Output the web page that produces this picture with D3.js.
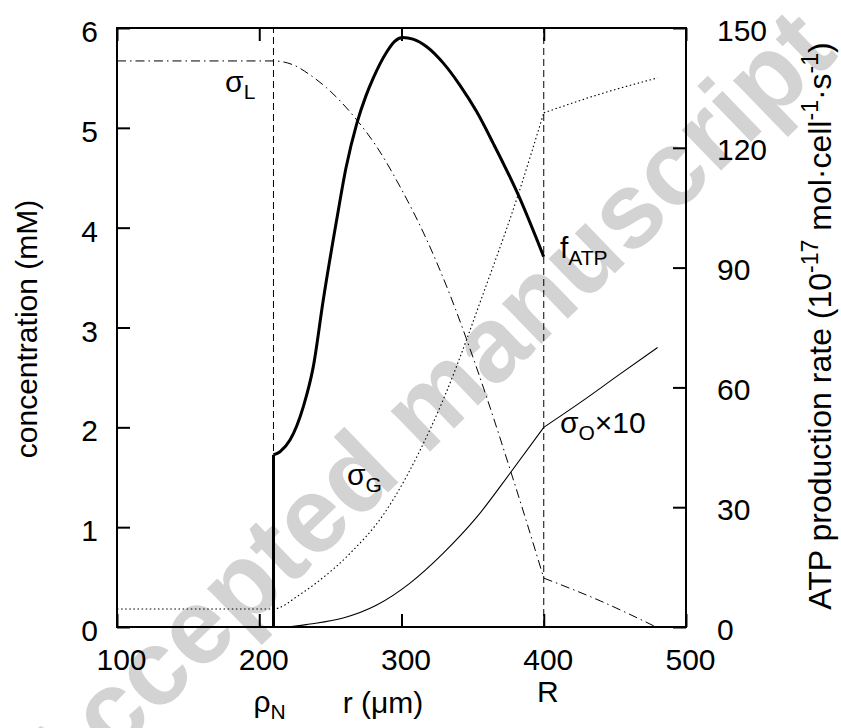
<!DOCTYPE html>
<meta charset="utf-8">
<body style="margin:0;background:#fff">
<svg width="841" height="728"></svg>
<script src="https://d3js.org/d3.v7.min.js"></script>
<script>
    // radial position r (um) and the two y scales
    var rDomain = [100, 500],
        rTicks = [100, 200, 300, 400, 500],
        concTicks = [0, 1, 2, 3, 4, 5, 6],
        atpTicks = [0, 30, 60, 90, 120, 150],
        rhoN = 210,
        R = 400;

    // concentrations in mM, [r, value]
    var sigmaL = [[100, 5.67], [210, 5.67], [224, 5.63], [235.7, 5.53], [247.4, 5.40], [268.5, 5.08],
        [282.6, 4.81], [299, 4.41], [317.7, 3.88], [334, 3.33], [345.8, 2.88], [359.9, 2.30],
        [376.3, 1.58], [388, 1.05], [400, 0.49]];
    var sigmaLOut = [[400, 0.49], [440, 0.26], [479, 0]];

    var sigmaG = [[100, 0.18], [210, 0.18], [218, 0.22], [224, 0.28], [240, 0.44], [264, 0.74],
        [287, 1.12], [304, 1.52], [312, 1.74], [330.6, 2.32], [345.8, 2.88], [352.9, 3.16],
        [382, 4.33], [400, 5.15]];
    var sigmaGOut = [[400, 5.15], [440, 5.34], [480, 5.50]];

    // oxygen, plotted as sigma_O x 10
    var sigmaO = [[210, 0], [222, 0.005], [235.7, 0.03], [259, 0.09], [282.6, 0.22], [306, 0.44],
        [329.4, 0.74], [352.9, 1.10], [376.3, 1.54], [400, 2.0]];
    var sigmaOOut = [[400, 2.0], [427.8, 2.27], [451.3, 2.51], [480, 2.80]];

    // ATP production rate, 1e-17 mol/cell/s (right axis)
    var fATPWall = [[210, 0], [210, 43.1]];
    var fATP = [[210, 43.1], [214.6, 43.9], [221.6, 46.8], [231, 55.2], [238, 65.2], [245, 81.9],
        [254.4, 101.9], [261, 115], [268.5, 126], [275, 133], [280.2, 137.5], [289.6, 144],
        [295, 146.6], [301, 147.6], [308, 147.2], [317.7, 145.3], [329.4, 141.2], [341, 135.7],
        [352.9, 129.0], [364.5, 121.1], [382.1, 108.2], [400, 92.7]];

    var font = "'Liberation Sans', Arial, Helvetica, sans-serif";
    var svg = d3.select("svg"),
        pl = 117, pr = 686, pt = 28, pb = 627;

    var x = d3.scaleLinear().domain(rDomain).range([pl, pr]);
    var yC = d3.scaleLinear().domain([0, 6]).range([pb, pt]);
    var yA = d3.scaleLinear().domain([0, 150]).range([pb, pt]);

    // watermark sits underneath everything
    svg.append("text")
        .attr("transform", "translate(429,414) rotate(-44)")
        .attr("text-anchor", "middle")
        .attr("dy", "0.26em")
        .attr("font-family", font)
        .attr("font-weight", "bold")
        .attr("font-size", 107)
        .attr("fill", "#d3d3d3")
        .text("Accepted manuscript");

    function styleAxis(g) {
        g.select(".domain").remove();
        g.attr("font-family", font).attr("font-size", 30);
        g.selectAll(".tick line").attr("stroke", "#000").attr("stroke-width", 2);
        g.selectAll(".tick text").attr("fill", "#000");
    }

    svg.append("g").attr("transform", "translate(0," + pb + ")")
        .call(d3.axisBottom(x).tickValues(rTicks).tickSize(-13).tickPadding(22))
        .call(styleAxis)
        .selectAll(".tick text").attr("dx", 4);

    svg.append("g").attr("transform", "translate(0," + pt + ")")
        .call(d3.axisTop(x).tickValues(rTicks).tickSize(-13).tickFormat(""))
        .call(styleAxis);

    svg.append("g").attr("transform", "translate(" + pl + ",0)")
        .call(d3.axisLeft(yC).tickValues(concTicks).tickFormat(d3.format("d")).tickSize(-13).tickPadding(19))
        .call(styleAxis)
        .selectAll(".tick text").attr("dy", "0.45em");

    svg.append("g").attr("transform", "translate(" + pr + ",0)")
        .call(d3.axisRight(yA).tickValues(atpTicks).tickFormat(d3.format("d")).tickSize(-13).tickPadding(31))
        .call(styleAxis)
        .selectAll(".tick text").attr("dy", "0.4em");

    // boundaries rho_N and R
    svg.append("g").selectAll("line")
        .data([rhoN, R])
        .enter().append("line")
        .attr("x1", d => x(d)).attr("x2", d => x(d))
        .attr("y1", yC(0)).attr("y2", yC(6))
        .attr("stroke", "#000").attr("stroke-width", 1)
        .attr("stroke-dasharray", "7,4");

    var lineC = d3.line().x(d => x(d[0])).y(d => yC(d[1])).curve(d3.curveMonotoneX);
    var lineA = d3.line().x(d => x(d[0])).y(d => yA(d[1])).curve(d3.curveMonotoneX);

    function draw(data, gen, width, dash) {
        svg.append("path")
            .datum(data)
            .attr("d", gen)
            .attr("fill", "none")
            .attr("stroke", "#000")
            .attr("stroke-width", width)
            .attr("stroke-dasharray", dash)
            .attr("stroke-linejoin", "round");
    }

    draw(sigmaL, lineC, 1, "9,4,1.5,4");
    draw(sigmaLOut, lineC, 1, "9,4,1.5,4");
    draw(sigmaG, lineC, 1.1, "1.5,2.6");
    draw(sigmaGOut, lineC, 1.1, "1.5,2.6");
    draw(sigmaO, lineC, 1.1, null);
    draw(sigmaOOut, lineC, 1.1, null);
    draw(fATPWall, d3.line().x(d => x(d[0])).y(d => yA(d[1])), 3, null);
    draw(fATP, lineA, 3, null);

    // frame
    svg.append("rect")
        .attr("x", pl).attr("y", pt)
        .attr("width", pr - pl).attr("height", pb - pt)
        .attr("fill", "none").attr("stroke", "#000").attr("stroke-width", 2);

    // text with a lowered subscript
    function subLabel(px, py, main, sub, rest) {
        var t = svg.append("text")
            .attr("x", px).attr("y", py)
            .attr("font-family", font).attr("font-size", 30);
        t.append("tspan").text(main);
        t.append("tspan").attr("font-size", 21).attr("dy", 7).text(sub);
        if (rest) t.append("tspan").attr("dy", -7).text(rest);
        return t;
    }

    subLabel(x(176), yC(5.36), "σ", "L");
    subLabel(x(411.4), yC(3.70), "f", "ATP");
    subLabel(x(411.4), yC(1.94), "σ", "O", "×10");
    subLabel(x(261.7), yC(1.42), "σ", "G");

    // extra labels under the x axis
    subLabel(x(rhoN) - 20, 712, "ρ", "N");
    svg.append("text")
        .attr("x", x(R) + 4).attr("y", 702)
        .attr("text-anchor", "middle")
        .attr("font-family", font).attr("font-size", 30)
        .text("R");

    svg.append("text")
        .attr("x", 383).attr("y", 713)
        .attr("text-anchor", "middle")
        .attr("font-family", font).attr("font-size", 30)
        .text("r (μm)");

    svg.append("text")
        .attr("transform", "translate(37,329) rotate(-90)")
        .attr("text-anchor", "middle")
        .attr("font-family", font).attr("font-size", 30)
        .text("concentration (mM)");

    var yl = svg.append("text")
        .attr("transform", "translate(831,326) rotate(-90)")
        .attr("text-anchor", "middle")
        .attr("font-family", font).attr("font-size", 32);
    yl.append("tspan").text("ATP production rate (10");
    yl.append("tspan").attr("font-size", 23).attr("dy", -13).text("-17");
    yl.append("tspan").attr("dy", 13).text(" mol·cell");
    yl.append("tspan").attr("font-size", 23).attr("dy", -13).text("-1");
    yl.append("tspan").attr("dy", 13).text("·s");
    yl.append("tspan").attr("font-size", 23).attr("dy", -13).text("-1");
    yl.append("tspan").attr("dy", 13).text(")");
</script>
</body>
